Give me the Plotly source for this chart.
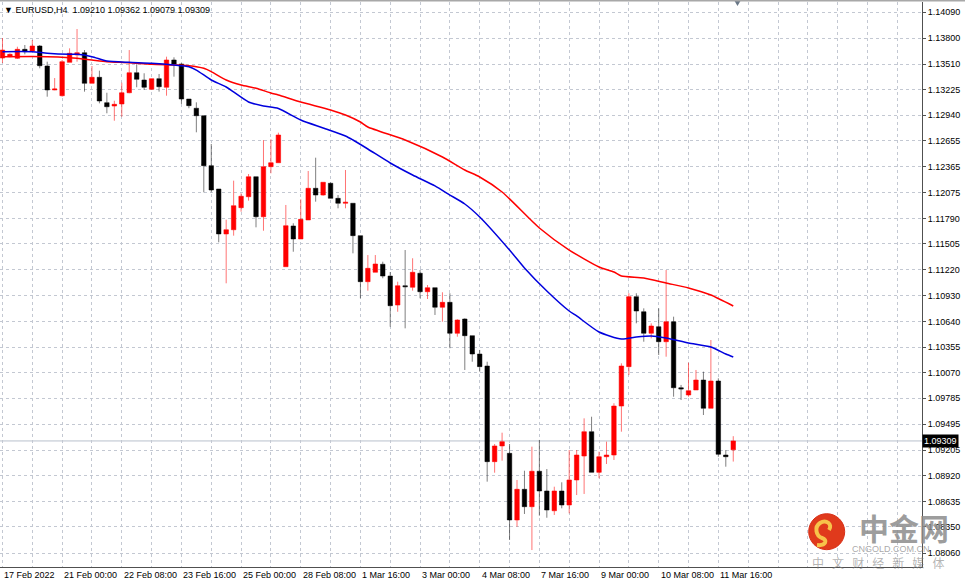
import plotly.graph_objects as go

# ---------------- data ----------------
opens = [1.13577,1.13592,1.13574,1.13674,1.13655,1.13711,1.13488,1.13221,1.13157,1.13529,
         1.13611,1.13636,1.13295,1.13362,1.13079,1.13042,1.13065,1.13190,1.13413,1.13332,
         1.13228,1.13347,1.13251,1.13555,1.13510,1.13120,1.13017,1.12934,1.12377,1.12117,
         1.11616,1.11663,1.11909,1.12031,1.12254,1.11808,1.12366,1.12410,1.11251,1.11705,
         1.11560,1.11772,1.12125,1.12050,1.12181,1.12013,1.11958,1.11958,1.11597,1.11084,
         1.11189,1.11278,1.11147,1.10824,1.11039,1.11022,1.11178,1.10972,1.11017,1.10799,
         1.10854,1.10509,1.10668,1.10482,1.10278,1.10144,1.09078,1.09253,1.09171,1.08428,
         1.08770,1.08576,1.08971,1.08751,1.08531,1.08751,1.08595,1.08874,1.09141,1.09412,
         1.08959,1.09133,1.09152,1.09698,1.10137,1.10917,1.10749,1.10509,1.10582,1.10415,
         1.10638,1.09902,1.09821,1.09877,1.09988,1.09673,1.09977,1.09152,1.09210]
highs = [1.13800,1.13630,1.13703,1.13722,1.13778,1.13722,1.13536,1.13354,1.13555,1.13685,
         1.13900,1.13666,1.13488,1.13436,1.13190,1.13101,1.13302,1.13666,1.13507,1.13407,
         1.13347,1.13399,1.13592,1.13585,1.13518,1.13120,1.13083,1.12934,1.12619,1.12117,
         1.11775,1.12210,1.12069,1.12284,1.12254,1.12663,1.12671,1.12745,1.11939,1.11735,
         1.12002,1.12318,1.12466,1.12192,1.12190,1.12050,1.12329,1.11958,1.11597,1.11381,
         1.11381,1.11307,1.11192,1.11084,1.11437,1.11345,1.11214,1.11047,1.11017,1.10966,
         1.10955,1.10665,1.10676,1.10482,1.10323,1.10192,1.09275,1.09401,1.09275,1.08874,
         1.08977,1.09245,1.09320,1.08996,1.08799,1.08848,1.09208,1.09208,1.09561,1.09579,
         1.09189,1.09301,1.09729,1.10174,1.10955,1.10955,1.10787,1.10620,1.10787,1.11214,
         1.10694,1.09933,1.10181,1.10100,1.10081,1.10434,1.10007,1.09208,1.09362]
lows = [1.13522,1.13585,1.13566,1.13618,1.13647,1.13462,1.13146,1.13218,1.13146,1.13529,
        1.13536,1.13202,1.13295,1.13072,1.12961,1.12878,1.12923,1.13184,1.13251,1.13221,
        1.13221,1.13202,1.13157,1.13369,1.13065,1.13017,1.12749,1.12080,1.12080,1.11523,
        1.11066,1.11597,1.11864,1.11987,1.11690,1.11652,1.12292,1.12410,1.11251,1.11418,
        1.11560,1.11772,1.11976,1.12042,1.12013,1.11902,1.11902,1.11400,1.10899,1.10984,
        1.11189,1.11122,1.10582,1.10749,1.10564,1.10984,1.10899,1.10891,1.10713,1.10638,
        1.10342,1.10471,1.10100,1.10192,1.10081,1.08855,1.08955,1.09089,1.08205,1.08353,
        1.08495,1.08093,1.08476,1.08453,1.08484,1.08558,1.08502,1.08706,1.08718,1.08959,
        1.08893,1.09052,1.09097,1.09412,1.10044,1.10620,1.10415,1.10453,1.10267,1.10248,
        1.09802,1.09765,1.09802,1.09877,1.09598,1.09673,1.09133,1.09022,1.09079]
closes = [1.13666,1.13618,1.13674,1.13647,1.13711,1.13491,1.13221,1.13232,1.13536,1.13630,
          1.13636,1.13295,1.13362,1.13098,1.13034,1.13061,1.13190,1.13413,1.13340,1.13251,
          1.13347,1.13257,1.13555,1.13510,1.13120,1.13046,1.12934,1.12377,1.12106,1.11616,
          1.11663,1.11931,1.12036,1.12254,1.11808,1.12366,1.12410,1.12719,1.11708,1.11560,
          1.11779,1.12125,1.12050,1.12192,1.12013,1.11958,1.11969,1.11597,1.11084,1.11233,
          1.11281,1.11147,1.10816,1.11039,1.11028,1.11189,1.10972,1.11017,1.10799,1.10854,
          1.10509,1.10657,1.10482,1.10278,1.10137,1.09078,1.09253,1.09301,1.08428,1.08770,
          1.08576,1.08971,1.08751,1.08539,1.08751,1.08595,1.08874,1.09152,1.09412,1.08959,
          1.09133,1.09152,1.09698,1.10144,1.10917,1.10757,1.10509,1.10590,1.10415,1.10638,
          1.09902,1.09888,1.09869,1.09988,1.09673,1.09977,1.09160,1.09133,1.09309]

# moving averages (bar index, value)
ma_fast_idx = [0,4,6,9,10,12,14,17,20,23,25,26,28,30,33,35,37,40,43,46,47,49,52,55,58,60,
               62,64,68,70,73,76,77,80,83,85,87,89,92,95,97,98]
ma_fast = [1.13647,1.13647,1.13630,1.13618,1.13618,1.13592,1.13544,1.13529,1.13518,1.13499,
           1.13480,1.13443,1.13332,1.13254,1.13087,1.13042,1.13014,1.12886,1.12797,1.12708,
           1.12663,1.12563,1.12407,1.12273,1.12151,1.12050,1.11950,1.11805,1.11437,1.11237,
           1.10980,1.10757,1.10702,1.10523,1.10445,1.10467,1.10479,1.10456,1.10401,1.10356,
           1.10278,1.10245]
ma_slow_idx = [0,6,9,10,12,14,17,20,23,25,27,28,30,32,34,36,37,40,44,46,48,49,54,59,62,64,
               67,72,76,80,82,83,86,89,92,95,98]
ma_slow = [1.13592,1.13592,1.13581,1.13574,1.13555,1.13536,1.13525,1.13507,1.13499,1.13491,
           1.13462,1.13425,1.13332,1.13276,1.13240,1.13187,1.13165,1.13087,1.12998,1.12942,
           1.12864,1.12808,1.12663,1.12474,1.12329,1.12251,1.12084,1.11682,1.11437,1.11248,
           1.11192,1.11147,1.11125,1.11069,1.11014,1.10936,1.10813]

price_ticks = [1.14090,1.13800,1.13510,1.13225,1.12940,1.12655,1.12365,1.12075,1.11790,
               1.11505,1.11220,1.10930,1.10640,1.10355,1.10070,1.09785,1.09495,1.09205,
               1.08920,1.08635,1.08350,1.08060]
time_labels = ["17 Feb 2022","21 Feb 00:00","22 Feb 08:00","23 Feb 16:00","25 Feb 00:00",
               "28 Feb 08:00","1 Mar 16:00","3 Mar 00:00","4 Mar 08:00","7 Mar 16:00",
               "9 Mar 00:00","10 Mar 08:00","11 Mar 16:00"]
time_label_idx = [0,8,16,24,32,40,48,56,64,72,80,88,96]
last_price = 1.09309
header = "EURUSD,H4\u00a0\u00a01.09210 1.09362 1.09079 1.09309"

# ---------------- geometry ----------------
W, H = 965, 581
ML, MR, MT, MB = 0, 43, 2, 14
PW, PH = W - ML - MR, H - MT - MB
BAR_PX = 7.457
X0_PX = 2.47
x_lo = -X0_PX / BAR_PX
x_hi = x_lo + PW / BAR_PX
PX_PER_PRICE = 1 / 0.00011146
y_hi = 1.142237 - MT / PX_PER_PRICE
y_lo = y_hi - PH / PX_PER_PRICE

FONT = "Liberation Sans"
FS = 9
idx = list(range(len(opens)))

fig = go.Figure()
fig.add_trace(go.Candlestick(
    x=idx, open=opens, high=highs, low=lows, close=closes,
    increasing=dict(fillcolor="#ff0000", line=dict(color="rgba(255,0,0,0.55)", width=1)),
    decreasing=dict(fillcolor="#000000", line=dict(color="rgba(0,0,0,0.5)", width=1)),
    whiskerwidth=0, hoverinfo="skip", showlegend=False))
fig.add_trace(go.Scatter(x=ma_slow_idx, y=ma_slow, mode="lines",
                         line=dict(color="#ff0000", width=1.5, shape="spline", smoothing=0.6),
                         hoverinfo="skip", showlegend=False))
fig.add_trace(go.Scatter(x=ma_fast_idx, y=ma_fast, mode="lines",
                         line=dict(color="#0000dd", width=1.5, shape="spline", smoothing=0.6),
                         hoverinfo="skip", showlegend=False))

vgrid = list(range(0, int(x_hi) + 1, 4))
fig.update_xaxes(range=[x_lo, x_hi], tickvals=vgrid, showticklabels=False,
                 showgrid=True, gridcolor="#c3c8d2", griddash="dot", gridwidth=1,
                 showline=True, linecolor="#505050", linewidth=1, mirror=False,
                 zeroline=False, rangeslider=dict(visible=False), fixedrange=True)
fig.update_yaxes(range=[y_lo, y_hi], side="right", tickvals=price_ticks,
                 ticktext=[f"{v:.5f}" for v in price_ticks],
                 showgrid=True, gridcolor="#c3c8d2", griddash="dot", gridwidth=1,
                 showline=True, linecolor="#505050", linewidth=1,
                 ticks="outside", ticklen=3, tickcolor="#505050",
                 tickfont=dict(family=FONT, size=FS, color="#000000"),
                 zeroline=False, fixedrange=True)

shapes = [
    dict(type="line", xref="paper", yref="y", x0=0, x1=1, y0=last_price, y1=last_price,
         line=dict(color="#b8c0cc", width=1), layer="below"),
    # chart-shift marker at top
    dict(type="path", xref="paper", yref="paper",
         path=f"M {734.0/PW} {1+2/PH} L {741.0/PW} {1+2/PH} L {737.5/PW} {1-4/PH} Z",
         fillcolor="#6a7888", line=dict(width=0), layer="above"),
    dict(type="line", xref="paper", yref="paper", x0=0, x1=(W)/PW, y0=1+1.5/PH, y1=1+1.5/PH,
         line=dict(color="#a8a8a8", width=2)),
]

def px(xp):
    return (xp - ML) / PW

def py(yp):
    return (H - MB - yp) / PH

# watermark logo
cx, cy, r = 826.7, 531.7, 18
shapes.append(dict(type="circle", xref="paper", yref="paper",
                   x0=px(cx - r), x1=px(cx + r), y0=py(cy + r), y1=py(cy - r),
                   fillcolor="#e03a1c", line=dict(color="#d83018", width=1), layer="above"))
swirl = (f"M {px(829)} {py(530)} C {px(833)} {py(524)} {px(826)} {py(519)} {px(820)} {py(523)} "
         f"C {px(814)} {py(527)} {px(816)} {py(536)} {px(822)} {py(538)} "
         f"C {px(828)} {py(540)} {px(826)} {py(546)} {px(817)} {py(545)}")
shapes.append(dict(type="path", xref="paper", yref="paper", path=swirl,
                   line=dict(color="#f7c34a", width=4), layer="above"))

annotations = []
for i, lab in zip(time_label_idx, time_labels):
    annotations.append(dict(x=i, y=0, xref="x", yref="paper", text=lab, showarrow=False,
                            xanchor="left", yanchor="top", xshift=0, yshift=-1,
                            font=dict(family=FONT, size=FS, color="#000000")))
annotations.append(dict(x=0, y=1, xref="paper", yref="paper",
                        text="\u25BC\u00a0" + header, showarrow=False, xanchor="left",
                        yanchor="top", xshift=2, yshift=-1,
                        font=dict(family=FONT, size=FS, color="#000000")))
annotations.append(dict(x=1, y=last_price, xref="paper", yref="y",
                        text=f"{last_price:.5f}", showarrow=False, xanchor="left",
                        yanchor="middle", xshift=0, bgcolor="#000000", borderpad=1,
                        font=dict(family=FONT, size=FS, color="#ffffff")))
annotations.append(dict(x=px(904), y=py(527), xref="paper", yref="paper", text="<b>中金网</b>",
                        showarrow=False, xanchor="center", yanchor="middle",
                        font=dict(family="Noto Sans CJK SC", size=30, color="rgba(140,140,140,0.85)")))
annotations.append(dict(x=px(891), y=py(549), xref="paper", yref="paper", text="CNGOLD.COM.CN",
                        showarrow=False, xanchor="center", yanchor="middle",
                        font=dict(family=FONT, size=9, color="rgba(130,130,130,0.7)")))
annotations.append(dict(x=px(878), y=py(562), xref="paper", yref="paper",
                        text="中\u00a0\u00a0\u00a0文\u00a0\u00a0\u00a0财\u00a0\u00a0\u00a0经\u00a0\u00a0\u00a0新\u00a0\u00a0\u00a0媒\u00a0\u00a0\u00a0体",
                        showarrow=False, xanchor="center", yanchor="middle",
                        font=dict(family="Noto Sans CJK SC", size=12, color="rgba(130,130,130,0.6)")))

fig.update_layout(width=W, height=H, margin=dict(l=ML, r=MR, t=MT, b=MB, pad=0),
                  paper_bgcolor="#ffffff", plot_bgcolor="#ffffff",
                  boxgap=0.4, boxgroupgap=0, showlegend=False,
                  shapes=shapes, annotations=annotations, hovermode=False)

fig.write_html("out.html")
